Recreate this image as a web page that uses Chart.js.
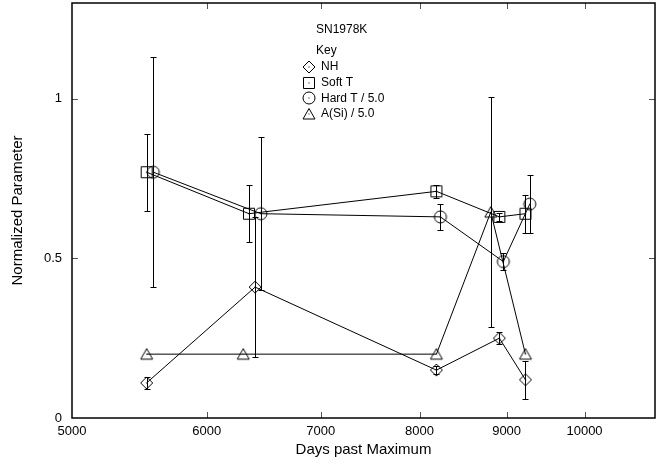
<!DOCTYPE html>
<html>
<head>
<meta charset="utf-8">
<script src="https://cdn.jsdelivr.net/npm/chart.js@4.4.0/dist/chart.umd.min.js"></script>
<style>
  html, body { margin: 0; padding: 0; background: #fff; }
</style>
</head>
<body>
<canvas id="chart" width="662" height="464"></canvas>
<script>
// values (x = days past maximum, y = normalized parameter)
const nhDays = [5531, 6405, 8185, 8912, 9232];
const nhValues = [0.11, 0.41, 0.15, 0.25, 0.12];
const nhErrors = [0.02, 0.22, 0.013, 0.018, 0.06];

const softDays = [5531, 6352, 8185, 8912, 9232];
const softValues = [0.77, 0.64, 0.71, 0.63, 0.64];
const softErrors = [0.12, 0.09, 0.02, 0.012, 0.06];

const hardDays = [5581, 6455, 8229, 8960, 9286];
const hardValues = [0.77, 0.64, 0.63, 0.49, 0.67];
const hardErrors = [0.36, 0.24, 0.04, 0.027, 0.09];

const siDays = [5531, 6303, 8185, 8809, 9232];
const siValues = [0.20, 0.20, 0.20, 0.645, 0.20];
const siErrors = [0, 0, 0, 0.36, 0];

const xTicks = [5000, 6000, 7000, 8000, 9000, 10000];
const yTicks = [0, 0.5, 1];

const FONT = '"Liberation Sans", Arial, Helvetica, sans-serif';
Chart.defaults.font.family = FONT;
Chart.defaults.color = '#000';

// open marker symbols with a small dot in the middle
function marker(kind) {
  const c = document.createElement('canvas');
  c.width = 16; c.height = 16;
  const g = c.getContext('2d');
  g.strokeStyle = '#000';
  g.lineWidth = 1;
  g.beginPath();
  if (kind === 'diamond') {
    g.moveTo(8, 2); g.lineTo(14, 8); g.lineTo(8, 14); g.lineTo(2, 8); g.closePath();
  } else if (kind === 'square') {
    g.rect(2.5, 2.5, 11, 11);
  } else if (kind === 'circle') {
    g.arc(8, 8, 6, 0, Math.PI * 2);
  } else {
    g.moveTo(8, 2.5); g.lineTo(14, 13); g.lineTo(2, 13); g.closePath();
  }
  g.stroke();
  g.fillStyle = '#000';
  g.fillRect(7.5, 7.5, 1, 1);
  return c;
}

const markers = {
  nh: marker('diamond'),
  soft: marker('square'),
  hard: marker('circle'),
  si: marker('triangle')
};

const pts = (xs, ys) => xs.map((x, i) => ({ x: x, y: ys[i] }));

function series(label, xs, ys, errs, img) {
  return {
    label: label,
    data: pts(xs, ys),
    errors: errs,
    borderColor: '#000',
    borderWidth: 1,
    pointStyle: img,
    pointRadius: 6,
    fill: false,
    tension: 0
  };
}

const errorBars = {
  id: 'errorBars',
  afterDatasetsDraw(chart) {
    const { ctx, scales: { x, y } } = chart;
    ctx.save();
    ctx.strokeStyle = '#000';
    ctx.lineWidth = 1;
    chart.data.datasets.forEach(ds => {
      ds.data.forEach((p, i) => {
        const e = ds.errors[i];
        if (!e) return;
        const px = Math.round(x.getPixelForValue(p.x)) + 0.5;
        const top = Math.round(y.getPixelForValue(p.y + e)) + 0.5;
        const bot = Math.round(y.getPixelForValue(p.y - e)) + 0.5;
        ctx.beginPath();
        ctx.moveTo(px, top); ctx.lineTo(px, bot);
        ctx.moveTo(px - 3, top); ctx.lineTo(px + 3, top);
        ctx.moveTo(px - 3, bot); ctx.lineTo(px + 3, bot);
        ctx.stroke();
      });
    });
    ctx.restore();
  }
};

const frame = {
  id: 'frame',
  afterDraw(chart) {
    const { ctx, chartArea: a, scales: { x, y } } = chart;
    ctx.save();
    // tick marks on all four sides, pointing in
    ctx.strokeStyle = '#555';
    ctx.lineWidth = 1;
    ctx.beginPath();
    xTicks.slice(1).forEach(v => {
      const px = Math.round(x.getPixelForValue(v)) + 0.5;
      ctx.moveTo(px, a.bottom); ctx.lineTo(px, a.bottom - 6);
      ctx.moveTo(px, a.top); ctx.lineTo(px, a.top + 6);
    });
    yTicks.slice(1).forEach(v => {
      const py = Math.round(y.getPixelForValue(v)) + 0.5;
      ctx.moveTo(a.left, py); ctx.lineTo(a.left + 6, py);
      ctx.moveTo(a.right, py); ctx.lineTo(a.right - 6, py);
    });
    ctx.stroke();
    ctx.strokeStyle = '#000';
    ctx.lineWidth = 1.5;
    ctx.strokeRect(a.left, a.top, a.right - a.left, a.bottom - a.top);

    // title and key inside the plot
    ctx.fillStyle = '#000';
    ctx.font = '12px ' + FONT;
    ctx.textAlign = 'left';
    ctx.textBaseline = 'middle';
    ctx.fillText('SN1978K', 316, 30);
    ctx.fillText('Key', 316, 51);
    chart.data.datasets.forEach((ds, i) => {
      const ly = 67 + i * 15.6;
      ctx.drawImage(ds.pointStyle, 309 - 8, Math.round(ly) - 8);
      ctx.fillText(ds.label, 321, ly);
    });
    ctx.restore();
  }
};

new Chart(document.getElementById('chart'), {
  type: 'line',
  data: {
    datasets: [
      series('NH', nhDays, nhValues, nhErrors, markers.nh),
      series('Soft T', softDays, softValues, softErrors, markers.soft),
      series('Hard T / 5.0', hardDays, hardValues, hardErrors, markers.hard),
      series('A(Si) / 5.0', siDays, siValues, siErrors, markers.si)
    ]
  },
  options: {
    responsive: false,
    animation: false,
    devicePixelRatio: 1,
    layout: { autoPadding: false, padding: { top: 3, right: 7, bottom: 0, left: 0 } },
    plugins: {
      legend: { display: false },
      tooltip: { enabled: false }
    },
    scales: {
      x: {
        type: 'logarithmic',
        min: 5000,
        max: 11000,
        afterBuildTicks: s => { s.ticks = xTicks.map(v => ({ value: v })); },
        afterFit: s => { s.height = 46; s.paddingLeft = 0; s.paddingRight = 0; },
        grid: { display: false, drawTicks: false },
        border: { display: false },
        ticks: {
          autoSkip: false,
          maxRotation: 0,
          padding: 6,
          font: { size: 13 },
          color: '#000',
          callback: v => String(v)
        },
        title: {
          display: true,
          text: 'Days past Maximum',
          font: { size: 15 },
          color: '#000',
          padding: { top: 0, bottom: 5 }
        }
      },
      y: {
        type: 'linear',
        min: 0,
        max: 1.3,
        afterBuildTicks: s => { s.ticks = yTicks.map(v => ({ value: v })); },
        afterFit: s => { s.width = 72; s.paddingTop = 0; s.paddingBottom = 0; },
        grid: { display: false, drawTicks: false },
        border: { display: false },
        ticks: {
          padding: 10,
          font: { size: 13 },
          color: '#000',
          callback: v => String(v)
        },
        title: {
          display: true,
          text: 'Normalized Parameter',
          font: { size: 15 },
          color: '#000',
          padding: { top: 9, bottom: 0 }
        }
      }
    }
  },
  plugins: [errorBars, frame]
});
</script>
</body>
</html>
